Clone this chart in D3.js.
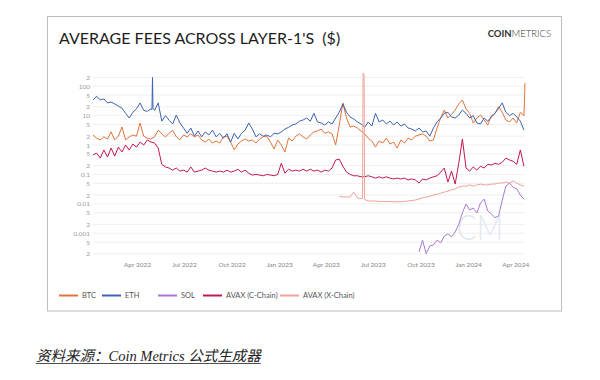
<!DOCTYPE html>
<html><head><meta charset="utf-8">
<script src="https://cdn.jsdelivr.net/npm/d3@7"></script>
<style>body{margin:0;background:#fff}svg{display:block}</style>
</head><body>
<svg id="c" width="600" height="380"></svg>
<script>
// ---------- DATA ----------
const seriesNames = ["BTC", "ETH", "SOL", "AVAX (C-Chain)", "AVAX (X-Chain)"];
const seriesColors = ["#e2733a", "#3d62b3", "#a77ad0", "#c2184e", "#f0a29a"];

// weekly samples (step 7 days) starting at each series' start date
const btcStart = "2022-01-06";
const btcValues = [2.2,1.7,1.5,1.9,1.6,2.8,1.5,2.0,4.1,1.5,
  1.9,2.2,2.0,5.6,2.0,1.7,1.6,1.9,3.2,2.4,
  1.9,2.5,3.2,1.9,1.5,2.2,1.9,2.4,1.9,2.2,
  1.5,1.26,1.6,1.17,1.37,1.17,1.9,2.0,1.26,0.68,
  1.08,1.37,1.6,1.37,1.48,1.17,1.6,1.9,2.0,1.26,
  0.73,1.48,1.0,0.58,1.73,1.37,2.0,2.4,1.9,1.6,
  2.2,2.8,3.0,3.5,2.5,2.8,2.4,1.0,4.8,27,
  8.3,4.1,4.4,3.8,3.0,2.4,1.7,1.37,0.85,1.37,
  1.17,1.73,1.08,1.26,0.79,1.48,1.17,1.73,1.48,2.0,
  2.2,2.4,2.0,1.37,1.48,3.8,8.3,15.5,8.3,11,
  15.5,25,34,17,12,5.6,8.3,10.5,7.1,4.8,
  10,12,20,13,7.1,6.1,8.3,5.6,13,10];
const btcExtra = [["2024-04-20", 128]];

const ethStart = "2022-01-06";
const ethValues = [34,46,34,37,27,29,25,21,18,12,
  8.3,13,17,27,15,14,17,15,27,6.5,
  10,7,5.2,10.5,5.6,3.8,2.5,3.8,2.0,3.0,
  1.9,2.8,2.2,3.2,1.9,2.5,1.7,2.4,1.26,2.5,
  1.6,2.5,3.2,5.6,3.5,1.9,2.4,2.0,2.2,1.9,
  2.5,2.4,2.8,3.5,4.0,4.8,5.2,6.5,7.1,8.3,
  6.5,12,6.1,5.6,4.8,6.1,5.2,8.3,13,25,
  13,9,7.7,6.1,5.2,4.0,6.1,4.4,12,6.1,
  7.1,5.2,6.5,4.8,6.1,4.4,5.2,3.8,3.5,3.0,
  3.8,2.8,3.0,2.0,3.8,6.1,8.3,12,13,9,
  8.3,10.5,15.5,12,8.3,10,5.6,5.2,8.3,6.5,
  9,12,18,27,13,10,12,9,6.5,3.2];
const ethExtra = [["2022-04-30", 16], ["2022-05-01", 200], ["2022-05-02", 18]];

const solStart = "2023-09-28";
const solValues = [0.00023,0.00058,0.0002,0.00037,0.0004,0.00058,0.00047,0.0008,0.00095,0.00075,
  0.0011,0.002,0.005,0.0098,0.0062,0.0072,0.0049,0.0106,0.0145,0.0057,
  0.0045,0.0034,0.0039,0.0134,0.04,0.051,0.037,0.032,0.02,0.0145];
const solExtra = [];

const avaxCStart = "2022-01-06";
const avaxCValues = [0.46,0.53,0.36,0.68,0.39,0.79,0.42,0.85,0.58,1.0,
  0.68,1.08,0.85,1.26,1.0,1.48,1.26,1.17,0.79,0.22,
  0.18,0.165,0.14,0.165,0.13,0.14,0.12,0.18,0.12,0.13,
  0.14,0.165,0.14,0.13,0.12,0.13,0.12,0.14,0.12,0.13,
  0.15,0.12,0.14,0.11,0.095,0.1,0.095,0.09,0.1,0.095,
  0.09,0.1,0.24,0.11,0.15,0.13,0.14,0.13,0.15,0.13,
  0.15,0.13,0.14,0.12,0.14,0.13,0.165,0.31,0.33,0.19,
  0.12,0.1,0.09,0.09,0.083,0.083,0.09,0.083,0.075,0.083,
  0.075,0.083,0.075,0.07,0.075,0.07,0.075,0.065,0.07,0.065,
  0.051,0.07,0.065,0.075,0.083,0.09,0.12,0.165,0.055,0.13,
  0.047,0.24,1.6,0.165,0.13,0.18,0.14,0.19,0.165,0.22,
  0.21,0.24,0.22,0.26,0.36,0.31,0.28,0.22,0.68,0.19];
const avaxCExtra = [];

const avaxXStart = "2023-04-27";
const avaxXValues = [0.018,0.017,0.017,0.017,0.025,0.016,0.015,0.014,0.0125,0.0125,0.0125,0.012,
  0.012,0.012,0.012,0.0118,0.0118,0.0118,0.012,0.0125,0.013,0.0134,
  0.0145,0.016,0.017,0.018,0.02,0.021,0.023,0.025,0.027,0.03,
  0.032,0.037,0.04,0.04,0.044,0.04,0.044,0.047,0.044,0.044,
  0.047,0.047,0.051,0.051,0.055,0.051,0.06,0.051,0.044,0.04];
const avaxXExtra = [["2023-06-11", 0.015], ["2023-06-12", 280], ["2023-06-14", 250]];

const yTickValues = [0.0002,0.0005,0.001,0.002,0.005,0.01,0.02,0.05,0.1,0.2,0.5,1,2,5,10,20,50,100,200];
const yTickLabels = ["2","5","0.001","2","5","0.01","2","5","0.1","2","5","1","2","5","10","2","5","100","2"];
const xTickDates = ["2022-04-01","2022-07-01","2022-10-01","2023-01-01","2023-04-01","2023-07-01","2023-10-01","2024-01-01","2024-04-01"];
const xTickLabels = ["Apr 2022","Jul 2022","Oct 2022","Jan 2023","Apr 2023","Jul 2023","Oct 2023","Jan 2024","Apr 2024"];

// ---------- BUILD ----------
const parse = d3.utcParse("%Y-%m-%d");
function build(start, values, extra) {
  const s = parse(start);
  const pts = values.map((v, i) => ({date: d3.utcDay.offset(s, 7 * i), value: v}));
  extra.forEach(([d, v]) => pts.push({date: parse(d), value: v}));
  pts.sort((a, b) => a.date - b.date);
  return pts;
}
const series = [
  build(btcStart, btcValues, btcExtra),
  build(ethStart, ethValues, ethExtra),
  build(solStart, solValues, solExtra),
  build(avaxCStart, avaxCValues, avaxCExtra),
  build(avaxXStart, avaxXValues, avaxXExtra)
];

const svg = d3.select("#c");
const font = "Lato, 'Open Sans', sans-serif";

// card
svg.append("rect").attr("x", 47.5).attr("y", 16.5).attr("width", 514).attr("height", 294.5)
  .attr("fill", "#fff").attr("stroke", "#bdbdbd").attr("stroke-width", 1);

// title
svg.append("text").attr("x", 59).attr("y", 43.5)
  .style("font-family", font).style("font-size", "16px").attr("fill", "#1e1e1e")
  .text("AVERAGE FEES ACROSS LAYER-1'S\u00a0 ($)");
const logo = svg.append("text").attr("x", 551).attr("y", 37).attr("text-anchor", "end")
  .style("font-family", font).style("font-size", "9.5px").attr("fill", "#333");
logo.append("tspan").style("font-weight", 700).text("COIN");
logo.append("tspan").style("font-weight", 300).text("METRICS");

// scales
const x = d3.scaleUtc().domain([parse("2022-01-06"), parse("2024-04-20")]).range([93, 525]);
const y = d3.scaleLog().domain([0.00012, 300]).range([260.3, 72.2]);

// grid + y labels
const yAxis = d3.axisLeft(y).tickValues(yTickValues)
  .tickFormat((d, i) => yTickLabels[i]).tickSize(0).tickPadding(3);
const gy = svg.append("g").attr("transform", "translate(93,0)").call(yAxis);
gy.select(".domain").remove();
gy.selectAll("text").style("font-family", font).style("font-size", "6.5px").attr("fill", "#9a9a9a");
svg.append("g").selectAll("line").data(yTickValues).join("line")
  .attr("x1", 93).attr("x2", 525).attr("y1", d => y(d)).attr("y2", d => y(d))
  .attr("stroke", "#efefef").attr("stroke-width", 1);

// x labels
const xAxis = d3.axisBottom(x).tickValues(xTickDates.map(parse))
  .tickFormat((d, i) => xTickLabels[i]).tickSize(0).tickPadding(0);
const gx = svg.append("g").attr("transform", "translate(0,262)").call(xAxis);
gx.select(".domain").remove();
gx.selectAll("text").style("font-family", font).style("font-size", "6.5px").attr("fill", "#858585");

// watermark
svg.append("text").attr("x", 457).attr("y", 240).attr("textLength", 46).attr("lengthAdjust", "spacingAndGlyphs")
  .style("font-family", font).style("font-size", "36px").style("font-weight", 300)
  .attr("fill", "#e3e8ef").text("CM");

// lines
const line = d3.line().x(d => x(d.date)).y(d => y(d.value));
svg.append("g").selectAll("path").data(series).join("path")
  .attr("d", line).attr("fill", "none")
  .attr("stroke", (d, i) => seriesColors[i]).attr("stroke-width", 1)
  .attr("stroke-linejoin", "round");

// legend
const legendX = [59, 102, 158, 203, 280];
const lg = svg.append("g");
seriesNames.forEach((n, i) => {
  lg.append("line").attr("x1", legendX[i]).attr("x2", legendX[i] + 19)
    .attr("y1", 295.5).attr("y2", 295.5).attr("stroke", seriesColors[i]).attr("stroke-width", 2);
  lg.append("text").attr("x", legendX[i] + 23).attr("y", 298.3)
    .style("font-family", font).style("font-size", "7.5px").attr("fill", "#555").text(n);
});

// footer
const ft = svg.append("text").attr("x", 36).attr("y", 360.5)
  .style("font-family", "'Liberation Serif', 'Noto Sans CJK SC', serif")
  .style("font-size", "14.5px").style("font-style", "italic").attr("fill", "#222")
  .text("资料来源：Coin Metrics 公式生成器");
const fw = ft.node().getComputedTextLength();
svg.append("line").attr("x1", 36).attr("x2", 36 + fw).attr("y1", 363.5).attr("y2", 363.5)
  .attr("stroke", "#222").attr("stroke-width", 0.8);
</script>
</body></html>
